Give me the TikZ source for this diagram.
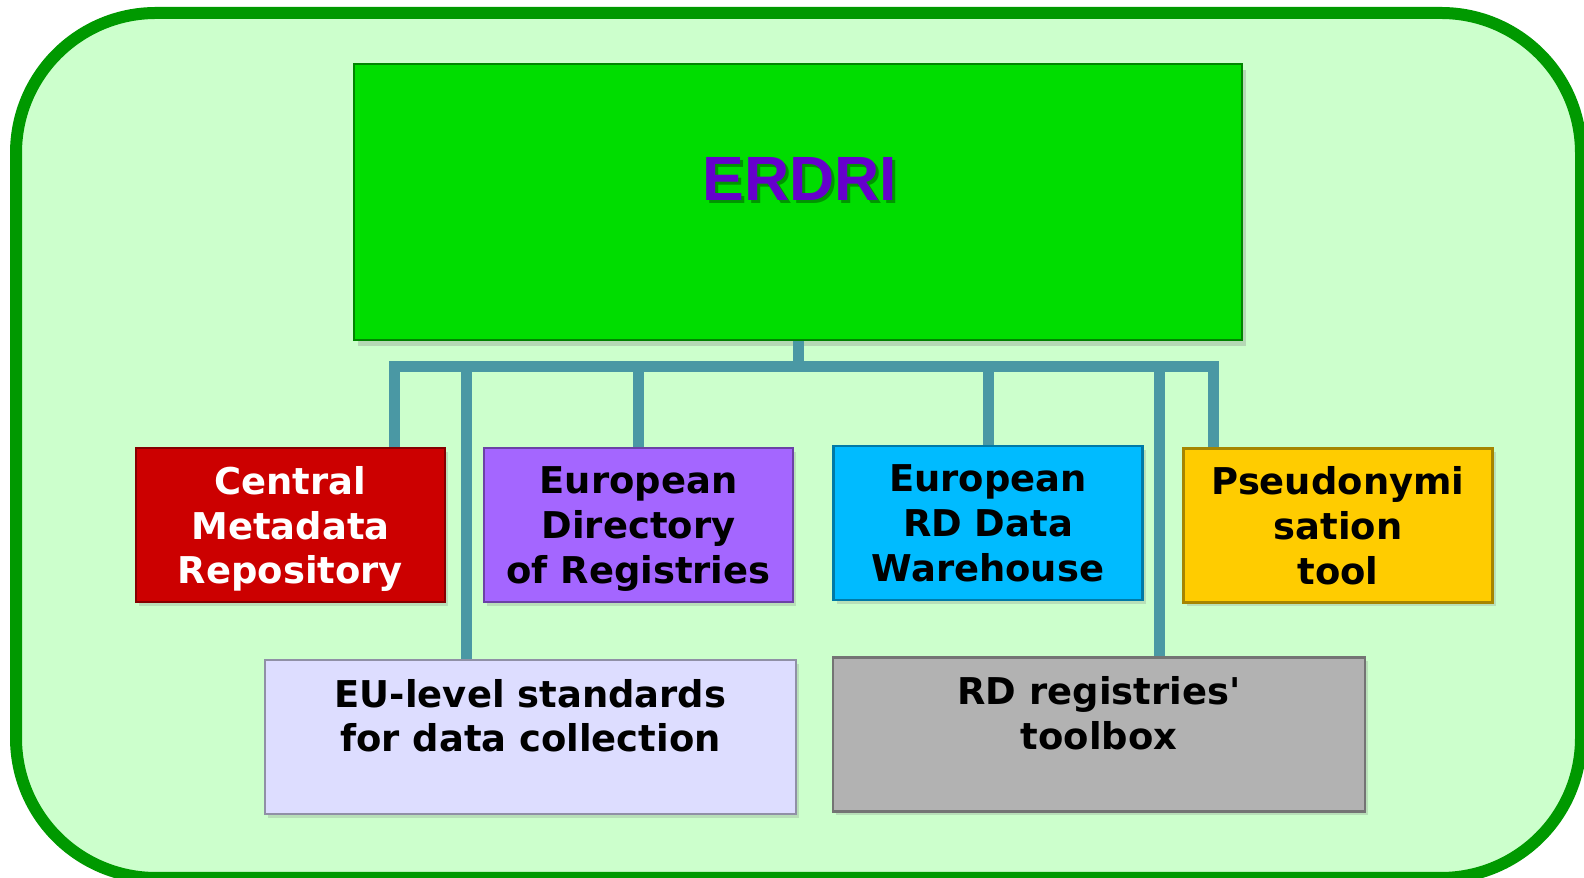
\documentclass[tikz,border=0pt]{standalone}
\usepackage{fontspec}
\setmainfont{DejaVu Sans}[Ligatures=TeXOff]
\newfontfamily\titlefont{Liberation Sans}
\usetikzlibrary{positioning,calc,shadows}

\definecolor{framegreen}{RGB}{0,153,0}
\definecolor{panelgreen}{RGB}{204,255,204}
\definecolor{erdrigreen}{RGB}{0,221,0}
\definecolor{erdripurple}{RGB}{102,0,204}
\definecolor{linkteal}{RGB}{74,152,164}
\definecolor{cmrred}{RGB}{204,0,0}
\definecolor{edrpurple}{RGB}{164,102,255}
\definecolor{dwhblue}{RGB}{0,187,255}
\definecolor{pstyellow}{RGB}{255,204,0}
\definecolor{stdlilac}{RGB}{221,221,255}
\definecolor{tbxgrey}{RGB}{178,178,178}

\tikzset{
  box/.style={draw=#1!65!black, fill=#1, line width=0.8pt,
    minimum width=3.09cm, minimum height=1.54cm, inner sep=0pt,
    text depth=0pt, align=center, font=\fontsize{10.5}{12.7}\selectfont\bfseries,
    drop shadow={shadow xshift=0.03cm, shadow yshift=-0.04cm, opacity=0.25}},
  boxtext/.style={inner sep=0pt, align=center,
    font=\fontsize{10.5}{12.7}\selectfont\bfseries},
  titletext/.style={inner sep=0pt, text=erdripurple,
    font=\titlefont\fontsize{17.8}{20}\selectfont\bfseries},
  link/.style={draw=linkteal, line width=0.11cm}
}

\begin{document}
\begin{tikzpicture}
  \useasboundingbox (0,0) rectangle (15.84,8.78);
  % outer panel
  \draw[framegreen, fill=panelgreen, line width=0.12cm, rounded corners=1.4cm]
    (0.16,0) rectangle (15.81,8.65);

  % ERDRI block
  \node[draw=erdrigreen!60!black, fill=erdrigreen, line width=0.8pt,
    minimum width=8.88cm, minimum height=2.76cm,
    drop shadow={shadow xshift=0.04cm, shadow yshift=-0.06cm, opacity=0.3}] (erdri) at (7.98,6.76) {};
  \node[titletext, text=green!25!black, opacity=0.45] (erdrishadow) at (8.03,6.96) {ERDRI};
  \node[titletext] (erdrititle) at (8.00,6.995) {ERDRI};

  % first row
  \node[box=cmrred, text=white] (cmr) at (2.905,3.53) {Central\\Metadata\\Repository};
  \node[box=edrpurple] (edr) at (6.385,3.53) {European\\Directory\\of Registries};
  \node[box=dwhblue] (dwh) at (9.88,3.55) {European\\RD Data\\Warehouse};
  \node[box=pstyellow] (pst) at (13.38,3.525) {Pseudonymi\\sation\\tool};

  % second row
  \node[box=stdlilac, minimum width=5.31cm] (std) at (5.305,1.41) {};
  \node[boxtext, below=0.2cm of std.north] (stdtext) {EU-level standards\\for data collection};
  \node[box=tbxgrey, minimum width=5.32cm] (tbx) at (10.99,1.435) {};
  \node[boxtext, below=0.2cm of tbx.north] (tbxtext) {RD registries'\\toolbox};

  % connectors
  \coordinate (bar) at (0,5.115);
  \coordinate (cmrtop) at ([xshift=-0.52cm]cmr.north east);
  \coordinate (psttop) at ([xshift=0.31cm]pst.north west);
  \coordinate (stdtop) at ([xshift=-0.645cm]std.north);
  \coordinate (tbxtop) at ([xshift=0.6cm]tbx.north);
  \draw[link] (erdri.south) -- (erdri.south |- bar);
  \draw[link] (cmrtop) -- (cmrtop |- bar) -- (psttop |- bar) -- (psttop);
  \foreach \n in {edr.north, dwh.north, stdtop, tbxtop}
    \draw[link] (\n) -- (\n |- bar);
\end{tikzpicture}
\end{document}
